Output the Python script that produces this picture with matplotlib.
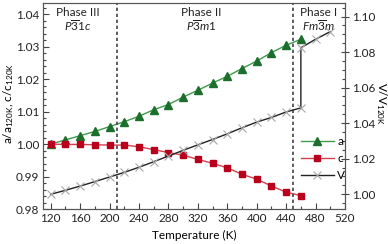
import matplotlib
matplotlib.use("Agg")
import matplotlib.pyplot as plt
from matplotlib.ticker import MultipleLocator

plt.rcParams['font.family'] = ['Lato', 'DejaVu Sans']
plt.rcParams['mathtext.fontset'] = 'custom'
plt.rcParams['mathtext.rm'] = 'Lato'
plt.rcParams['mathtext.it'] = 'Lato:italic'
plt.rcParams['font.size'] = 8.5

# lattice parameters, normalised to 120 K
temp_ac = [120, 140, 160, 180, 200, 220, 240, 260, 280, 300,
           320, 340, 360, 380, 400, 420, 440, 460]
a_rel = [1.0000, 1.0013, 1.0026, 1.0039, 1.0054, 1.0069, 1.0086, 1.0106, 1.0122,
         1.0145, 1.0166, 1.0188, 1.0209, 1.0233, 1.0256, 1.0282, 1.0305, 1.0323]
c_rel = [1.0000, 0.9999, 0.9999, 0.9998, 0.9997, 0.9997, 0.9992, 0.9983, 0.9974,
         0.9966, 0.9953, 0.9941, 0.9927, 0.9907, 0.9892, 0.9871, 0.9852, 0.9841]

# volume (jump at the phase II -> phase I transition)
temp_v = [120, 140, 160, 180, 200, 220, 240, 260, 280, 300, 320, 340,
          360, 380, 400, 420, 440, 460, 460, 480, 500]
v_rel = [1.0000, 1.0022, 1.0046, 1.0071, 1.0097, 1.0123, 1.0152, 1.0183, 1.0215,
         1.0247, 1.0278, 1.0308, 1.0340, 1.0374, 1.0406, 1.0432, 1.0463, 1.0486,
         1.0824, 1.0872, 1.0915]

transitions = [210, 450]
phase_names = ["Phase III", "Phase II", "Phase I"]
phase_groups = [r"$\mathit{P}\overline{\mathit{3}}\mathit{1c}$",
                r"$\mathit{P}\overline{\mathit{3}}\mathit{m1}$",
                r"$\mathit{Fm}\overline{\mathit{3}}\mathit{m}$"]
phase_x = [157, 325, 484]

fig = plt.figure(figsize=(3.88, 2.44), dpi=100)
ax = fig.add_axes([0.1116, 0.1434, 0.7776, 0.8443])
ax2 = ax.twinx()

la, = ax.plot(temp_ac, a_rel, color="#3f9a4c", lw=1.0, marker="^", ms=5.5,
              mfc="#1c6e2c", mec="#1c6e2c", label="a")
lc, = ax.plot(temp_ac, c_rel, color="#d2404f", lw=1.0, marker="s", ms=4.5,
              mfc="#b8001c", mec="#b8001c", label="c")
lv, = ax2.plot(temp_v, v_rel, color="#222222", lw=1.0, marker="x", ms=5.5,
               mec="#a8a8a8", mew=0.8, label="V")

for t in transitions:
    ax.axvline(t, color="#444444", lw=1.2, ls=(0, (2, 1.6)))

for x, n, g in zip(phase_x, phase_names, phase_groups):
    ax.text(x, 1.0407, n, ha="center", va="center", color="#222222")
    ax.text(x, 1.0364, g, ha="center", va="center", color="#222222")

ax.set_xlim(110, 520)
ax.set_ylim(0.98, 1.0435)
ax2.set_ylim(0.9917, 1.1076)

ax.xaxis.set_major_locator(MultipleLocator(40))
ax.xaxis.set_minor_locator(MultipleLocator(20))
ax.yaxis.set_major_locator(MultipleLocator(0.01))
ax.yaxis.set_minor_locator(MultipleLocator(0.002))
ax2.yaxis.set_major_locator(MultipleLocator(0.02))
ax2.yaxis.set_minor_locator(MultipleLocator(0.005))
ax.yaxis.set_major_formatter(plt.FormatStrFormatter("%.2f"))
ax2.yaxis.set_major_formatter(plt.FormatStrFormatter("%.2f"))

ax.tick_params(axis="both", which="major", direction="in", length=4, width=0.8,
               colors="#444444", labelcolor="#222222", pad=3)
ax.tick_params(axis="both", which="minor", direction="in", length=2.5, width=0.8,
               colors="#444444")
ax2.tick_params(axis="y", which="major", direction="inout", length=6, width=0.8,
                colors="#444444", labelcolor="#222222", pad=2)
ax2.tick_params(axis="y", which="minor", direction="in", length=2.5, width=0.8,
                colors="#444444")

for a in (ax, ax2):
    for s in a.spines.values():
        s.set_color("#555555")
        s.set_linewidth(0.8)

ax.set_xlabel("Temperature (K)", labelpad=4)
fig.text(9 / 388, 0.575, r"a/a$_{\mathrm{120K}}$, c/c$_{\mathrm{120K}}$",
         rotation=90, ha="center", va="center")
fig.text(381.5 / 388, 0.575, r"V/V$_{\mathrm{120K}}$", rotation=-90,
         ha="center", va="center")

ax2.legend(handles=[la, lc, lv], loc="upper left", bbox_to_anchor=(0.853, 0.355),
           frameon=False, borderpad=0, borderaxespad=0, handlelength=2.8,
           handletextpad=0.3, labelspacing=0.5)

fig.savefig("out.png", dpi=100)
